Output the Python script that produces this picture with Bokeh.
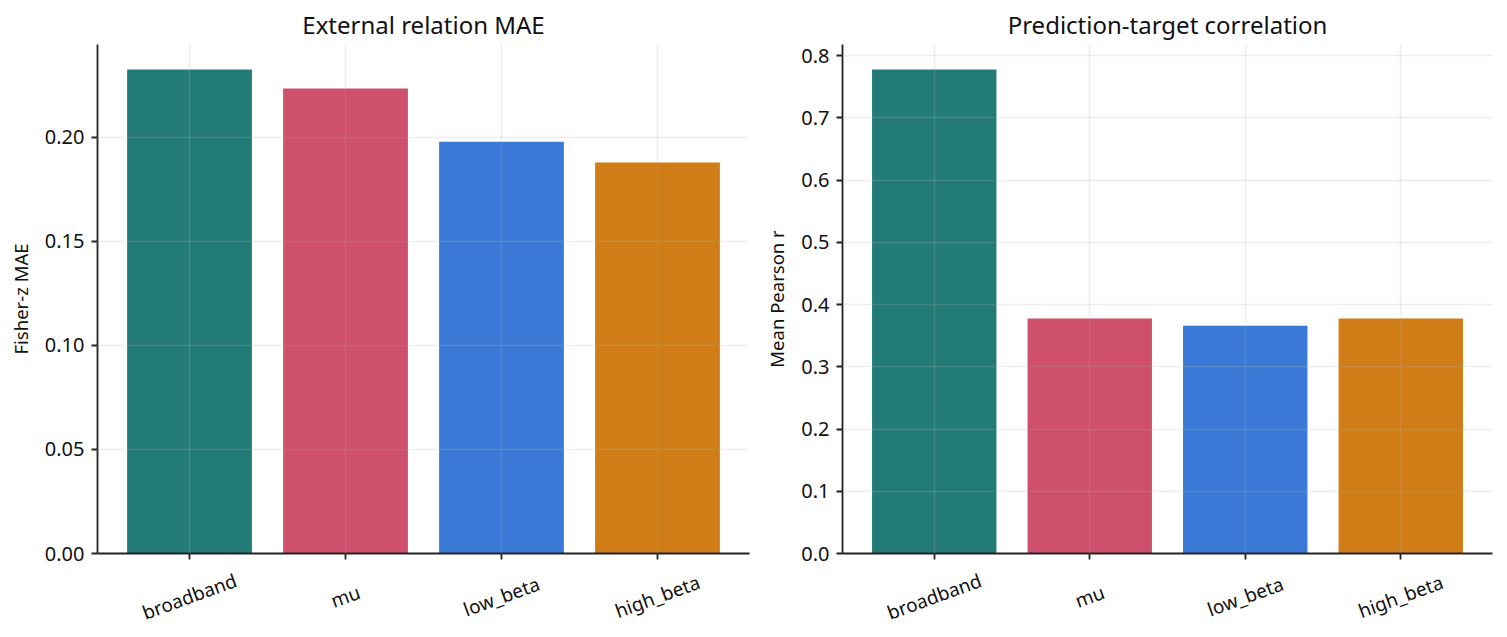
import math
from bokeh.plotting import figure
from bokeh.layouts import row, column
from bokeh.models import (FactorRange, Range1d, SingleIntervalTicker, NumeralTickFormatter,
                          ColumnDataSource)
from bokeh.core.properties import value
from bokeh.embed import file_html
from bokeh.resources import INLINE

bands = ["broadband", "mu", "low_beta", "high_beta"]
colors = ["#237b78", "#cf506c", "#3a7ad6", "#d07d17"]
mae_values = [0.2327, 0.2236, 0.1980, 0.1880]
corr_values = [0.7775, 0.3775, 0.3660, 0.3775]

FONT = "Noto Sans"
TOP_H = 566
LAB_H = 637 - TOP_H


def make_panel(title, values, ylabel, ymax, tick_step, fmt, width, left, right):
    src = ColumnDataSource(dict(x=bands, top=values, color=colors))
    xr = FactorRange(*bands, range_padding=0.09, range_padding_units="absolute")
    p = figure(x_range=xr, y_range=Range1d(0, ymax), width=width, height=TOP_H,
               output_backend="svg", toolbar_location=None, title=title,
               min_border_left=left, min_border_right=right,
               min_border_top=44, min_border_bottom=TOP_H - 553)
    p.vbar(x="x", top="top", width=0.8, color="color", source=src, line_color=None)
    p.outline_line_color = None
    p.background_fill_color = "white"
    p.border_fill_color = "white"

    p.title.text_font = FONT
    p.title.text_font_size = "24px"
    p.title.text_font_style = "normal"
    p.title.align = "center"
    p.title.text_color = "#111111"
    p.title.offset = 0
    p.title.standoff = 7

    for ax in (p.xaxis[0], p.yaxis[0]):
        ax.axis_line_color = "#222222"
        ax.axis_line_width = 1.8
        ax.major_tick_line_color = "#222222"
        ax.major_tick_line_width = 1.8
        ax.major_tick_out = 6
        ax.major_tick_in = 0
        ax.minor_tick_line_color = None
        ax.major_label_text_font = FONT
        ax.major_label_text_font_size = "20px"
        ax.major_label_text_color = "#111111"
        ax.axis_label_text_font = FONT
        ax.axis_label_text_font_size = "18.5px"
        ax.axis_label_text_font_style = "normal"
        ax.axis_label_text_color = "#111111"

    p.yaxis[0].ticker = SingleIntervalTicker(interval=tick_step, num_minor_ticks=0)
    p.yaxis[0].formatter = NumeralTickFormatter(format=fmt)
    p.yaxis[0].axis_label = ylabel
    p.yaxis[0].major_label_standoff = 7
    p.yaxis[0].axis_label_standoff = 9
    p.xaxis[0].major_label_text_color = None
    p.xaxis[0].major_label_text_font_size = "1px"
    p.xaxis[0].major_label_standoff = 0

    for g in (p.xgrid[0], p.ygrid[0]):
        g.grid_line_color = "#b0b0b0"
        g.grid_line_alpha = 0.22
        g.grid_line_width = 1.5
        g.level = "overlay"

    # strip below the chart carrying the rotated category labels
    lab = figure(x_range=xr, y_range=Range1d(0, 1), width=width, height=LAB_H,
                 output_backend="svg", toolbar_location=None,
                 x_axis_location=None, y_axis_location=None,
                 min_border_left=left, min_border_right=right,
                 min_border_top=0, min_border_bottom=0)
    lab.outline_line_color = None
    lab.grid.visible = False
    lab.background_fill_color = "white"
    lab.border_fill_color = "white"
    lsrc = ColumnDataSource(dict(x=bands, y=[1.0] * len(bands)))
    lab.text(x="x", y="y", text="x", source=lsrc, y_offset=30,
             angle=20, angle_units="deg", text_align="center", text_baseline="middle",
             text_line_height=0.9,
             text_font=value(FONT), text_font_size="19px", text_color="#111111")
    return column(p, lab, spacing=0)


c1 = make_panel("External relation MAE", mae_values, "Fisher-z MAE", 0.2447, 0.05, "0.00",
                760, 97, 11)
c2 = make_panel("Prediction-target correlation", corr_values, "Mean Pearson r", 0.8177, 0.1, "0.0",
                747, 82, 15)

layout = row(c1, c2, spacing=0)
open("out.html", "w").write(file_html(layout, INLINE))
